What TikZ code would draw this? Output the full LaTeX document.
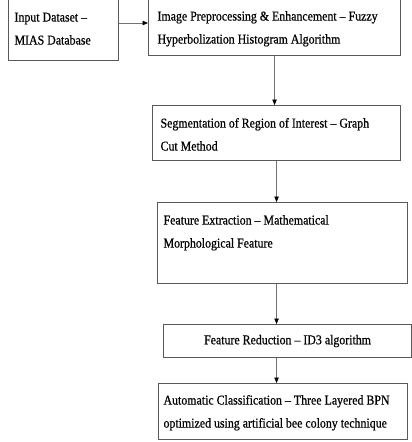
\documentclass[tikz,border=0pt]{standalone}
\usepackage{fontspec}
\setmainfont{Liberation Serif}[FakeStretch=0.88,FakeBold=0.6]
\usetikzlibrary{arrows.meta}
\begin{document}
\begin{tikzpicture}[x=1pt,y=-1pt,
  box/.style={draw=black!65, line width=1.1pt, inner sep=0pt, anchor=north west,
    font=\fontsize{13.5}{23}\selectfont, text=black},
  conn/.style={draw=black!55, line width=0.6pt, -{Triangle[length=5.5pt,width=4.5pt,fill=black,color=black]}}]
\useasboundingbox[fill=white] (0,0) rectangle (412,442);
\node[box] (b1) at (8,-1) {\parbox[c][61pt][t]{110pt}{\raggedright\leftskip=6pt\relax\vspace*{12pt}\rule{0pt}{10pt}Input Dataset –\\ MIAS Database}};
\node[box] (b2) at (148,-1) {\parbox[c][56pt][t]{252pt}{\raggedright\leftskip=9pt\relax\vspace*{11pt}\rule{0pt}{10pt}Image Preprocessing \& Enhancement  – Fuzzy\\ Hyperbolization  Histogram Algorithm}};
\node[box] (b3) at (152,105) {\parbox[c][55pt][t]{248pt}{\raggedright\leftskip=8pt\relax\vspace*{12pt}\rule{0pt}{10pt}Segmentation of Region of Interest – Graph\\ Cut Method}};
\node[box] (b4) at (157,202) {\parbox[c][81pt][t]{250pt}{\raggedright\leftskip=6pt\relax\vspace*{12pt}\rule{0pt}{10pt}Feature Extraction  – Mathematical\\ Morphological  Feature}};
\node[box, minimum width=248pt, minimum height=33pt] (b5) at (163,324) {Feature Reduction  – ID3 algorithm};
\node[box] (b6) at (158,383) {\parbox[c][56pt][t]{249pt}{\raggedright\leftskip=5pt\relax\vspace*{11pt}\rule{0pt}{10pt}Automatic  Classification – Three Layered BPN\\ optimized  using artificial  bee colony technique}};
\coordinate (a1) at (0,23);
\draw[conn] (b1.east |- a1) -- (b2.west |- a1);
\draw[conn] (b2.south) -- (b3.north -| b2.south);
\draw[conn] (b3.south) -- (b4.north -| b3.south);
\draw[conn] (b4.south -| b3.south) -- (b5.north -| b3.south);
\draw[conn] (b5.south -| b3.south) -- (b6.north -| b3.south);
\end{tikzpicture}
\end{document}
